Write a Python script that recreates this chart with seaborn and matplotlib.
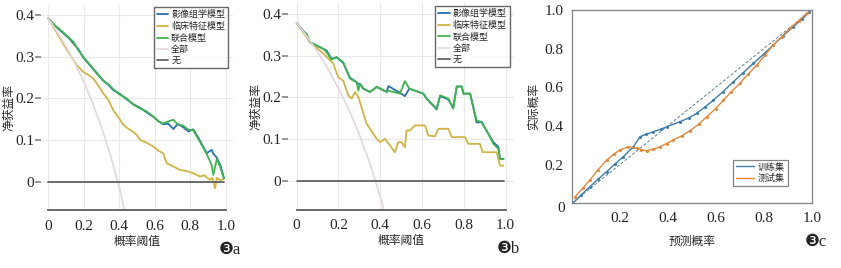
import numpy as np
import pandas as pd
import matplotlib
matplotlib.use('Agg')
import matplotlib.pyplot as plt
import seaborn as sns
from matplotlib.ticker import FuncFormatter

# ---- panel a: DCA, training set ----
a_model_x = [0, 0.04, 0.08, 0.12, 0.141, 0.17, 0.197, 0.23, 0.273, 0.31, 0.34, 0.366, 0.40, 0.442,
             0.48, 0.517, 0.55, 0.592, 0.62, 0.648, 0.675, 0.705, 0.73, 0.761, 0.79, 0.817,
             0.85, 0.893, 0.921, 0.93, 0.95, 0.97, 0.99]
a_radiomics = [0.392, 0.373, 0.358, 0.343, 0.332, 0.318, 0.298, 0.282, 0.260, 0.243, 0.232, 0.220, 0.212, 0.198,
               0.186, 0.178, 0.168, 0.156, 0.146, 0.138, 0.140, 0.127, 0.139, 0.131, 0.121, 0.126,
               0.103, 0.069, 0.077, 0.068, 0.058, 0.040, 0.010]
a_combined = [0.392, 0.374, 0.360, 0.344, 0.336, 0.315, 0.300, 0.283, 0.262, 0.242, 0.234, 0.222, 0.210, 0.200,
              0.185, 0.176, 0.170, 0.157, 0.145, 0.140, 0.145, 0.149, 0.138, 0.135, 0.125, 0.124,
              0.100, 0.067, 0.040, 0.017, 0.055, 0.035, 0.008]
a_clin_x = [0, 0.05, 0.10, 0.13, 0.16, 0.197, 0.22, 0.254, 0.28, 0.310, 0.34, 0.366, 0.40, 0.423,
            0.45, 0.479, 0.50, 0.517, 0.55, 0.592, 0.62, 0.648, 0.667, 0.70, 0.742, 0.78, 0.817,
            0.855, 0.88, 0.911, 0.925, 0.94, 0.95, 0.97, 0.99]
a_clinical = [0.392, 0.356, 0.320, 0.300, 0.280, 0.264, 0.258, 0.248, 0.232, 0.212, 0.196, 0.172, 0.152, 0.137,
              0.128, 0.120, 0.112, 0.101, 0.095, 0.085, 0.075, 0.069, 0.045, 0.038, 0.029, 0.026, 0.021,
              0.013, 0.016, 0.005, 0.010, -0.015, 0.010, 0.004, 0.008]
a_all_x = [0, 0.05, 0.10, 0.15, 0.20, 0.25, 0.30, 0.35, 0.40, 0.45]
a_all = [0.392, 0.360, 0.324, 0.285, 0.240, 0.189, 0.131, 0.065, -0.013, -0.105]

# ---- panel b: DCA, test set ----
b_model_x = [0, 0.03, 0.048, 0.064, 0.127, 0.143, 0.167, 0.191, 0.223, 0.255, 0.287, 0.295, 0.303,
             0.319, 0.351, 0.383, 0.431, 0.439, 0.494, 0.518, 0.539, 0.606, 0.622, 0.670, 0.686,
             0.726, 0.749, 0.766, 0.790, 0.798, 0.830, 0.861, 0.885, 0.917, 0.941, 0.965, 0.973, 0.99]
b_radiomics = [0.378, 0.360, 0.350, 0.332, 0.316, 0.312, 0.292, 0.296, 0.282, 0.247, 0.236, 0.232, 0.232,
               0.221, 0.213, 0.225, 0.213, 0.227, 0.211, 0.203, 0.221, 0.209, 0.197, 0.171, 0.203,
               0.195, 0.175, 0.226, 0.226, 0.209, 0.209, 0.140, 0.141, 0.113, 0.093, 0.082, 0.053, 0.053]
b_combined = [0.378, 0.358, 0.352, 0.332, 0.316, 0.308, 0.290, 0.296, 0.284, 0.245, 0.236, 0.216, 0.232,
              0.221, 0.213, 0.225, 0.213, 0.216, 0.209, 0.239, 0.221, 0.209, 0.197, 0.173, 0.205,
              0.197, 0.173, 0.226, 0.226, 0.209, 0.209, 0.145, 0.141, 0.113, 0.089, 0.077, 0.053, 0.053]
b_clin_x = [0, 0.064, 0.127, 0.175, 0.199, 0.223, 0.247, 0.263, 0.279, 0.295, 0.335, 0.383, 0.399,
            0.423, 0.470, 0.486, 0.502, 0.518, 0.526, 0.542, 0.566, 0.614, 0.630, 0.662, 0.678,
            0.726, 0.742, 0.806, 0.821, 0.877, 0.890, 0.957, 0.973, 0.99]
b_clinical = [0.378, 0.332, 0.305, 0.281, 0.248, 0.240, 0.205, 0.197, 0.213, 0.201, 0.137, 0.101, 0.093,
              0.101, 0.069, 0.093, 0.093, 0.081, 0.121, 0.121, 0.133, 0.133, 0.109, 0.107, 0.125,
              0.125, 0.105, 0.105, 0.089, 0.089, 0.069, 0.069, 0.037, 0.037]
b_all_x = [0, 0.05, 0.10, 0.15, 0.20, 0.25, 0.30, 0.35, 0.40, 0.45]
b_all = [0.378, 0.345, 0.309, 0.268, 0.222, 0.171, 0.111, 0.043, -0.037, -0.131]

none_x = [0, 0.99]
none_y = [0, 0]

# ---- panel c: calibration ----
train_x = [0.007, 0.04, 0.076, 0.11, 0.146, 0.18, 0.215, 0.257, 0.285, 0.31, 0.340, 0.37, 0.396, 0.451,
           0.49, 0.521, 0.555, 0.590, 0.63, 0.674, 0.715, 0.757, 0.80, 0.840, 0.88, 0.924, 0.96, 0.99]
train_y = [0.003, 0.044, 0.086, 0.125, 0.164, 0.203, 0.241, 0.293, 0.345, 0.357, 0.370, 0.383, 0.396, 0.422,
           0.443, 0.466, 0.498, 0.534, 0.577, 0.629, 0.676, 0.724, 0.772, 0.819, 0.866, 0.914, 0.953, 0.99]
test_x = [0.014, 0.045, 0.076, 0.11, 0.146, 0.175, 0.201, 0.236, 0.271, 0.29, 0.313, 0.34, 0.368, 0.395,
          0.424, 0.46, 0.493, 0.53, 0.563, 0.60, 0.632, 0.665, 0.701, 0.735, 0.771, 0.805, 0.840,
          0.875, 0.910, 0.945, 0.979]
test_y = [0.034, 0.077, 0.121, 0.174, 0.224, 0.254, 0.276, 0.293, 0.284, 0.276, 0.272, 0.280, 0.293, 0.309,
          0.328, 0.350, 0.376, 0.410, 0.448, 0.490, 0.534, 0.577, 0.621, 0.668, 0.715, 0.767, 0.819,
          0.862, 0.905, 0.944, 0.983]

labels = ['影像组学模型', '临床特征模型', '联合模型', '全部', '无']
colors = ['#2b6fae', '#d1b446', '#3fb550', '#e4d6de', '#555555']

sns.set_theme(style='white')
plt.rcParams['font.family'] = ['Liberation Serif', 'DejaVu Sans', 'Noto Sans CJK SC']
plt.rcParams['axes.unicode_minus'] = False

fig = plt.figure(figsize=(8.41, 2.68), dpi=100)
ax_a = fig.add_axes([0.049, 0.215, 0.2278, 0.768])
ax_b = fig.add_axes([0.3428, 0.218, 0.2684, 0.770])
ax_c = fig.add_axes([0.6798, 0.2414, 0.2854, 0.7213])

fmt = FuncFormatter(lambda v, p: '0' if abs(v) < 1e-9 else f'{v:.1f}')


def dca_panel(ax, mx, rad, comb, cx, clin, allx, ally, tag):
    sns.lineplot(x=mx, y=rad, ax=ax, color=colors[0], lw=1.3, label=labels[0])
    sns.lineplot(x=cx, y=clin, ax=ax, color=colors[1], lw=1.3, label=labels[1])
    sns.lineplot(x=mx, y=comb, ax=ax, color=colors[2], lw=1.3, label=labels[2])
    sns.lineplot(x=allx, y=ally, ax=ax, color=colors[3], lw=1.2, label=labels[3])
    sns.lineplot(x=none_x, y=none_y, ax=ax, color=colors[4], lw=1.2, label=labels[4])
    ax.set_xlim(-0.04, 1.04)
    ax.set_ylim(-0.068, 0.425)
    ax.set_xticks([0, 0.2, 0.4, 0.6, 0.8, 1.0])
    ax.set_yticks([0, 0.1, 0.2, 0.3, 0.4])
    ax.xaxis.set_major_formatter(fmt)
    ax.yaxis.set_major_formatter(fmt)
    ax.grid(True, color='#e9e9e9', lw=0.8)
    for s in ['top', 'right', 'left']:
        ax.spines[s].set_visible(False)
    ax.spines['bottom'].set_bounds(0, 1)
    ax.spines['bottom'].set_color('#555555')
    ax.tick_params(axis='x', direction='in', length=4, color='#555555', labelsize=11, pad=7)
    ax.tick_params(axis='y', direction='out', length=4, color='#888888', labelsize=11, left=True, pad=1)
    ax.set_xlabel('概率阈值', fontsize=8.5, labelpad=2)
    ax.set_ylabel('净获益率', fontsize=8.5, labelpad=0)
    leg = ax.legend(loc='upper right', bbox_to_anchor=(1.0, 1.01), fontsize=6.5, frameon=True,
                    fancybox=False, handlelength=1.3, handletextpad=0.3, labelspacing=0.3,
                    borderpad=0.35, edgecolor='#444444')
    leg.get_frame().set_linewidth(1.0)
    ax.text(0.925, -0.19, tag, transform=ax.transAxes, fontsize=12, va='center', ha='left')


dca_panel(ax_a, a_model_x, a_radiomics, a_combined, a_clin_x, a_clinical, a_all_x, a_all, '❸a')
dca_panel(ax_b, b_model_x, b_radiomics, b_combined, b_clin_x, b_clinical, b_all_x, b_all, '❸b')

# calibration panel
ax_c.plot([0, 1], [0, 1], ls=(0, (3, 2)), color='#5b7d99', lw=0.7)
sns.lineplot(x=train_x, y=train_y, ax=ax_c, color='#3f7cab', lw=1.0, marker='o', markersize=2.2,
             markeredgewidth=0, label='训练集')
sns.lineplot(x=test_x, y=test_y, ax=ax_c, color='#e0883a', lw=1.0, marker='o', markersize=2.2,
             markeredgewidth=0, label='测试集')
ax_c.set_xlim(0, 1)
ax_c.set_ylim(0, 1)
ax_c.set_xticks([0.2, 0.4, 0.6, 0.8, 1.0])
ax_c.set_yticks([0.2, 0.4, 0.6, 0.8, 1.0])
ax_c.xaxis.set_major_formatter(fmt)
ax_c.yaxis.set_major_formatter(fmt)
ax_c.tick_params(length=0, labelsize=11, pad=6)
for s in ax_c.spines.values():
    s.set_color('#8a8a8a')
    s.set_linewidth(1.0)
ax_c.text(-0.03, -0.025, '0', transform=ax_c.transAxes, ha='right', va='center', fontsize=11)
ax_c.set_xlabel('预测概率', fontsize=8.5, labelpad=8)
ax_c.set_ylabel('实际概率', fontsize=8.5, labelpad=3)
leg = ax_c.legend(loc='lower right', bbox_to_anchor=(0.918, 0.064), fontsize=6.5, frameon=True,
                  fancybox=False, handlelength=2.0, handletextpad=0.4, labelspacing=0.3,
                  borderpad=0.35, edgecolor='#666666')
for h in leg.get_lines():
    h.set_marker('')
leg.get_frame().set_linewidth(0.9)
ax_c.text(0.97, -0.2, '❸c', transform=ax_c.transAxes, fontsize=12, va='center', ha='left')

plt.savefig('out.png', dpi=100)
